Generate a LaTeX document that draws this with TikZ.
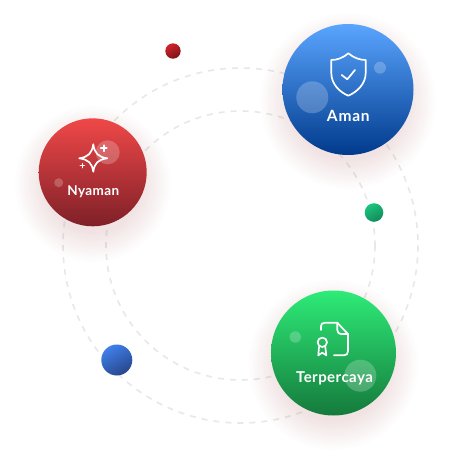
\documentclass[tikz,border=0pt]{standalone}
\usepackage{fontspec}
\setmainfont{Lato}
\usetikzlibrary{calc}
\definecolor{ringc}{HTML}{E8E8E8}
\definecolor{shadowc}{HTML}{B86060}
\definecolor{aTop}{HTML}{5AA5FF}
\definecolor{aBot}{HTML}{003A8C}
\definecolor{nTop}{HTML}{F04848}
\definecolor{nBot}{HTML}{7E2028}
\definecolor{tTop}{HTML}{2EEB78}
\definecolor{tBot}{HTML}{157A3C}
\definecolor{rdTop}{HTML}{D0252B}
\definecolor{rdBot}{HTML}{7A1418}
\definecolor{grTop}{HTML}{1CC47E}
\definecolor{grBot}{HTML}{128A58}
\definecolor{blTop}{HTML}{3F80EA}
\definecolor{blBot}{HTML}{28468C}
\tikzset{
  ring/.style={draw=ringc,line width=1.6pt,dash pattern=on 6pt off 6pt},
  ball/.style={circle,inner sep=0pt,outer sep=0pt},
  glow/.style={circle,inner sep=0pt,outer sep=0pt,fill=white,fill opacity=0.22},
  icon/.style={draw=white,line width=1.7pt,line cap=round,line join=round},
  lab/.style={text=white,inner sep=0pt,anchor=base},
}
\newcommand{\softshadow}[4]{% x y r step-count
  \foreach \k in {1,...,#4}{
    \fill[shadowc,opacity=0.006] (#1,#2) circle ({#3+30-\k*30/#4});
  }
}
\begin{document}
\begin{tikzpicture}[x=1pt,y=-1pt]
\useasboundingbox (0,0) rectangle (456,472);
\fill[white] (0,0) rectangle (456,472);
\coordinate (hub) at (240.5,245.5);
\draw[ring] (hub) circle (177.5);
\draw[ring] (hub) circle (134.5);
% soft shadows
\softshadow{348}{101}{60}{14}
\softshadow{93}{184}{50}{14}
\softshadow{333.5}{365}{57}{14}
% large balls
\node[ball,minimum size=131pt,top color=aTop,bottom color=aBot] (aman) at (348,89.5) {};
\node[glow,minimum size=32pt] (aman1) at (312.3,97.3) {};
\node[glow,minimum size=12pt] (aman2) at (380,67.7) {};
\node[lab,font=\bfseries\fontsize{15.5}{15.5}\selectfont\addfontfeature{LetterSpace=5}] (amanl) at (348.3,121.7) {Aman};
\draw[icon] (348.3,53.3) .. controls (354,58) and (360,60) .. (365.7,60) -- (365.7,73) .. controls (365.7,84) and (357,92) .. (348.3,95.7) .. controls (339.5,92) and (331.3,84) .. (331.3,73) -- (331.3,60) .. controls (337,60) and (343,58) .. (348.3,53.3) -- cycle;
\draw[icon] (341.7,75) -- (347.3,79.3) -- (355,70);

\node[ball,minimum size=108pt,top color=nTop,bottom color=nBot] (nyaman) at (92.7,172.3) {};
\node[glow,minimum size=24pt] (ny1) at (107.7,152.3) {};
\node[glow,minimum size=9pt] (ny2) at (58.7,182.7) {};
\node[lab,font=\bfseries\fontsize{13.5}{13.5}\selectfont\addfontfeature{LetterSpace=3}] (nyl) at (93.3,195.7) {Nyaman};
\draw[icon] (93.3,144.3) .. controls (94.5,153) and (98,157) .. (107.3,158.3) .. controls (98,159.6) and (94.5,163) .. (93.3,171.7) .. controls (92,163) and (88.5,159.6) .. (79.3,158.3) .. controls (88.5,157) and (92,153) .. (93.3,144.3) -- cycle;
\draw[icon] (103.7,145.3) -- (103.7,151.3) (100.7,148.3) -- (106.7,148.3);
\draw[icon,line width=1.3pt] (82.3,163.7) -- (82.3,167.7) (80.3,165.7) -- (84.3,165.7);

\node[ball,minimum size=125pt,top color=tTop,bottom color=tBot] (terp) at (333.5,353) {};
\node[glow,minimum size=11.4pt] (t1) at (295.3,337) {};
\node[lab,font=\bfseries\fontsize{15}{15}\selectfont\addfontfeature{LetterSpace=3}] (tl) at (334.5,382.3) {Terpercaya};
\node[glow,minimum size=32pt] (t2) at (360.3,375.7) {};
\draw[icon] (321,330) -- (321,326) .. controls (321,324) and (322.5,322.7) .. (325,322.7) -- (337.3,322.7) -- (348,334) -- (348,351) .. controls (348,354) and (346.5,355.3) .. (344,355.3) -- (334,355.3);
\draw[icon] (337.3,322.7) -- (337.3,330) .. controls (337.3,332.5) and (339,334) .. (341,334) -- (348,334);
\draw[icon] (322.3,342.3) circle (4.7);
\draw[icon] (319,347) -- (318.3,355.3) -- (322.3,352.7) -- (326.3,355.3) -- (325.3,347);

% small balls
\node[ball,minimum size=15.4pt,top color=rdTop,bottom color=rdBot,shading angle=30] (dotr) at (173,51) {};
\node[ball,minimum size=18.6pt,top color=grTop,bottom color=grBot,shading angle=30] (dotg) at (374,212.5) {};
\node[ball,minimum size=31pt,top color=blTop,bottom color=blBot,shading angle=30] (dotb) at (116.8,360) {};
\end{tikzpicture}
\end{document}
